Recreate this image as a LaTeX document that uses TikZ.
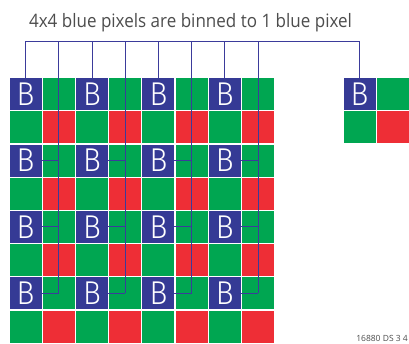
\documentclass[tikz,border=0pt]{standalone}
\usepackage{fontspec}
\setmainfont{Open Sans}
\newfontfamily\titlefont[FakeStretch=0.92]{Open Sans}
\newfontfamily\bletter[FakeStretch=0.9]{Fira Sans Light}
\definecolor{pblue}{HTML}{353A95}
\definecolor{pgreen}{HTML}{00A651}
\definecolor{pred}{HTML}{EE2E36}
\definecolor{wirecol}{HTML}{3B3B9B}
\definecolor{txtgray}{HTML}{4D4D4D}
\begin{document}
\begin{tikzpicture}[x=1pt,y=-1pt,
  cell/.style={draw=none, inner sep=0pt, outer sep=0pt, minimum size=32pt},
  bcell/.style={cell, fill=pblue, text=white, font=\bletter\fontsize{33}{33}\selectfont},
  gcell/.style={cell, fill=pgreen},
  rcell/.style={cell, fill=pred},
  wire/.style={draw=wirecol, line width=1pt}]
\useasboundingbox (0,0) rectangle (409,343);
\fill[white] (0,0) rectangle (409,343);
% title
\node[anchor=base, text=txtgray, inner sep=0pt] (title) at (190.5,27)
  {\titlefont\fontsize{18.5}{20}\selectfont 4x4 blue pixels are binned to 1 blue pixel};
% main grid
\foreach \i in {0,2,4,6}{\foreach \j in {0,2,4,6}{
  \node[bcell] (c-\i-\j) at ({25.6+33.2*\i},{94.1+33.2*\j}) {B};}}
\foreach \i in {1,3,5,7}{\foreach \j in {0,2,4,6}{
  \node[gcell] (c-\i-\j) at ({25.6+33.2*\i},{94.1+33.2*\j}) {};}}
\foreach \i in {0,2,4,6}{\foreach \j in {1,3,5,7}{
  \node[gcell] (c-\i-\j) at ({25.6+33.2*\i},{94.1+33.2*\j}) {};}}
\foreach \i in {1,3,5,7}{\foreach \j in {1,3,5,7}{
  \node[rcell] (c-\i-\j) at ({25.6+33.2*\i},{94.1+33.2*\j}) {};}}
% binned pixel block
\node[bcell] (r-0-0) at (359.6,94.1) {B};
\node[gcell] (r-1-0) at (392.8,94.1) {};
\node[gcell] (r-0-1) at (359.6,127.3) {};
\node[rcell] (r-1-1) at (392.8,127.3) {};
% wiring
\coordinate (bus) at (0,41);
\draw[wire] (c-0-0.north |- bus) -- (r-0-0.north |- bus);
\foreach \i in {0,2,4,6}{\draw[wire] (c-\i-0.north |- bus) -- (c-\i-0.north);}
\draw[wire] (r-0-0.north |- bus) -- (r-0-0.north);
\foreach \i/\k in {1/0,3/2,5/4,7/6}{
  \draw[wire] (c-\i-0.center |- bus) -- (c-\i-6.center);
  \foreach \j in {2,4,6}{\draw[wire] (c-\k-\j.east) -- (c-\i-\j.center);}
}
% footer
\node[anchor=base east, text=txtgray, inner sep=0pt] (ref) at (408,341.5)
  {\fontsize{8.5}{9}\selectfont 16880 DS 3 4};
\end{tikzpicture}
\end{document}
